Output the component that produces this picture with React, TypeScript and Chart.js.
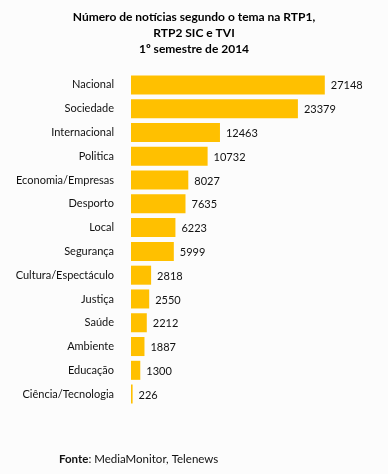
import React, { useEffect, useRef } from "react";
import { Chart, registerables } from "chart.js";

Chart.register(...registerables);

const categories = [
  "Nacional",
  "Sociedade",
  "Internacional",
  "Politica",
  "Economia/Empresas",
  "Desporto",
  "Local",
  "Segurança",
  "Cultura/Espectáculo",
  "Justiça",
  "Saúde",
  "Ambiente",
  "Educação",
  "Ciência/Tecnologia",
];
const values = [27148, 23379, 12463, 10732, 8027, 7635, 6223, 5999, 2818, 2550, 2212, 1887, 1300, 226];
const titleLines = ["Número de notícias segundo o tema na RTP1,", "RTP2 SIC e TVI", "1º semestre de 2014"];
const sourceLabel = "Fonte";
const sourceText = ": MediaMonitor, Telenews";
const xMax = 36000;

const FONT = "Lato, 'Open Sans', sans-serif";

export default function App() {
  const ref = useRef<HTMLCanvasElement>(null);

  useEffect(() => {
    document.body.style.margin = "0";
    const canvas = ref.current;
    if (!canvas) return;

    const labelPlugin = {
      id: "valueLabels",
      afterDatasetsDraw(chart: any) {
        const ctx = chart.ctx;
        const meta = chart.getDatasetMeta(0);
        ctx.save();
        ctx.font = `11px ${FONT}`;
        ctx.fillStyle = "#111";
        ctx.textBaseline = "middle";
        ctx.textAlign = "left";
        meta.data.forEach((bar: any, i: number) => {
          ctx.fillText(String(values[i]), bar.x + 6, bar.y + 1);
        });
        // source line
        const sx = 59;
        const sy = 459;
        ctx.font = `bold 11.5px ${FONT}`;
        ctx.fillStyle = "#111";
        ctx.fillText(sourceLabel, sx, sy);
        const w = ctx.measureText(sourceLabel).width;
        ctx.font = `11.5px ${FONT}`;
        ctx.fillText(sourceText, sx + w, sy);
        ctx.restore();
      },
    };

    const chart = new Chart(canvas, {
      type: "bar",
      data: {
        labels: categories,
        datasets: [
          {
            data: values,
            backgroundColor: "#FFC000",
            borderWidth: 0,
            barPercentage: 0.8,
            categoryPercentage: 1,
          },
        ],
      },
      options: {
        indexAxis: "y",
        responsive: false,
        animation: false,
        maintainAspectRatio: false,
        layout: { padding: { top: 0, bottom: 68, right: 0, left: 0 } },
        plugins: {
          legend: { display: false },
          tooltip: { enabled: false },
          title: {
            display: true,
            text: titleLines,
            color: "#000",
            font: { family: FONT, size: 12, weight: "bold", lineHeight: 16 / 12 },
            padding: { top: 9, bottom: 16 },
          },
        },
        scales: {
          x: {
            display: false,
            min: 0,
            max: xMax,
          },
          y: {
            grid: { display: false },
            border: { display: false },
            ticks: {
              color: "#111",
              padding: 9,
              font: { family: FONT, size: 11 },
            },
            afterFit(scale: any) {
              scale.width = 131;
            },
          },
        },
      },
      plugins: [labelPlugin],
    });

    return () => chart.destroy();
  }, []);

  return (
    <div style={{ width: 388, height: 474, background: "#fcfcfc" }}>
      <canvas ref={ref} width={388} height={474} style={{ display: "block" }} />
    </div>
  );
}
